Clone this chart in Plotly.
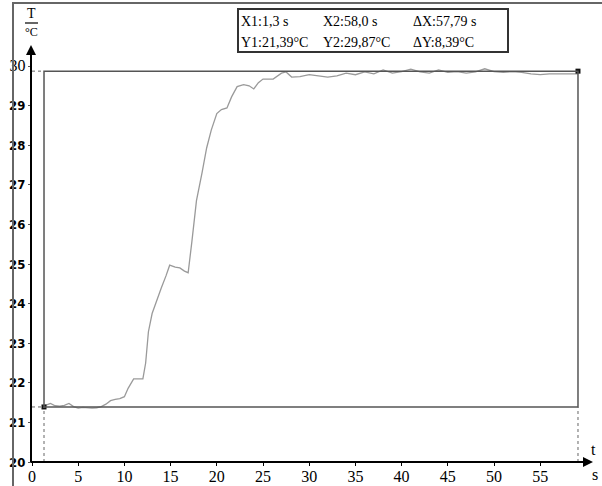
import plotly.graph_objects as go

# ---- data ----
time_s = [1.3, 2.0, 2.5, 3.0, 3.5, 4.0, 4.5, 5.0, 5.5, 6.0, 6.5, 7.0, 7.5, 8.0, 8.5, 9.0, 9.5, 10.0,
          10.4, 11.0, 11.5, 12.0, 12.3, 12.6, 13.0, 13.5, 14.0, 14.5, 14.9, 15.5, 16.0, 16.5, 16.9,
          17.3, 17.8, 18.4, 18.9, 19.4, 20.0, 20.5, 21.1, 21.6, 22.2, 22.9, 23.5, 24.0, 24.5, 25.0,
          26.1, 27.0, 27.5, 28.1, 29, 30, 31, 32, 33, 34, 35, 36, 37, 38, 39, 40, 41, 42, 43, 44,
          45, 46, 47, 48, 49, 50, 51, 52, 53, 54, 55, 56, 57, 58, 59.09]
temp_c = [21.42, 21.48, 21.42, 21.41, 21.43, 21.48, 21.40, 21.36, 21.38, 21.37, 21.36, 21.37, 21.40,
          21.46, 21.55, 21.58, 21.60, 21.65, 21.86, 22.10, 22.10, 22.10, 22.50, 23.29, 23.75, 24.10,
          24.40, 24.70, 24.97, 24.92, 24.90, 24.82, 24.78, 25.56, 26.60, 27.30, 27.93, 28.38, 28.80,
          28.90, 28.94, 29.22, 29.48, 29.53, 29.50, 29.42, 29.58, 29.67, 29.67, 29.82, 29.85, 29.72,
          29.73, 29.78, 29.75, 29.72, 29.75, 29.82, 29.78, 29.85, 29.80, 29.90, 29.82, 29.86, 29.92,
          29.85, 29.82, 29.90, 29.84, 29.86, 29.82, 29.85, 29.93, 29.86, 29.84, 29.86, 29.84, 29.80,
          29.78, 29.80, 29.80, 29.80, 29.80]
x_ticks = [0, 5, 10, 15, 20, 25, 30, 35, 40, 45, 50, 55]
y_ticks = [20, 21, 22, 23, 24, 25, 26, 27, 28, 29, 30]
cursor_x = [1.3, 59.09]
cursor_y = [21.39, 29.87]
info_rows = [["X1:1,3 s", "X2:58,0 s", "ΔX:57,79 s"],
             ["Y1:21,39°C", "Y2:29,87°C", "ΔY:8,39°C"]]

W, H = 602, 486
L, R, T, B = 32, 12, 47, 24
PW, PH = W - L - R, H - T - B
XR = [0, PW / 9.24]
YR = [20, 20 + PH / 39.6]


def px(x):
    return (x - L) / PW


def py(y):
    return (H - B - y) / PH


serif = "Liberation Serif"
narrow = "Liberation Sans Narrow, DejaVu Sans Condensed, Arial Narrow, sans-serif"

fig = go.Figure()
fig.add_trace(go.Scatter(x=time_s, y=temp_c, mode="lines",
                         line=dict(color="#9a9a9a", width=1.3), hoverinfo="skip"))
fig.add_trace(go.Scatter(x=cursor_x, y=cursor_y, mode="markers",
                         marker=dict(color="#111", size=5, symbol="square"), hoverinfo="skip"))

shapes = []
x1, x2 = cursor_x
y1, y2 = cursor_y
# cursor rectangle
shapes.append(dict(type="rect", xref="x", yref="y", x0=x1, x1=x2, y0=y1, y1=y2,
                   line=dict(color="#555", width=1.5)))
# dashed guides to axes
for xx in cursor_x:
    shapes.append(dict(type="line", xref="x", yref="y", x0=xx, x1=xx, y0=20, y1=y1,
                       line=dict(color="#666", width=1, dash="dot")))
for yy in cursor_y:
    shapes.append(dict(type="line", xref="x", yref="y", x0=0, x1=x1, y0=yy, y1=yy,
                       line=dict(color="#666", width=1, dash="dot")))
# axes lines
shapes.append(dict(type="line", xref="paper", yref="paper", x0=px(31), x1=px(31), y0=0, y1=py(52),
                   line=dict(color="#000", width=2)))
shapes.append(dict(type="line", xref="paper", yref="paper", x0=px(31), x1=px(586), y0=0, y1=0,
                   line=dict(color="#000", width=2)))
# fraction bar for T/°C
shapes.append(dict(type="line", xref="paper", yref="paper", x0=px(25), x1=px(38), y0=py(23), y1=py(23),
                   line=dict(color="#000", width=1.2)))

ann = []
# outer frame (only left and top edges fall inside the page)
ann.append(dict(xref="paper", yref="paper", x=px(12), y=py(2), xanchor="left", yanchor="top",
                text=" ", showarrow=False, width=640, height=540, bordercolor="#666",
                borderwidth=2, borderpad=0))
# info box (right edge runs on past the readout)
ann.append(dict(xref="paper", yref="paper", x=px(237), y=py(8), xanchor="left", yanchor="top",
                text=" ", showarrow=False, width=268, height=41, bordercolor="#333",
                borderwidth=2, borderpad=0))
# arrows
ann.append(dict(xref="paper", yref="paper", x=px(31), y=py(45), ax=0, ay=14, text="",
                showarrow=True, arrowhead=2, arrowsize=1, arrowwidth=2, arrowcolor="#000"))
ann.append(dict(xref="paper", yref="paper", x=px(593), y=0, ax=-14, ay=0, text="",
                showarrow=True, arrowhead=2, arrowsize=1, arrowwidth=2, arrowcolor="#000"))
# unit labels
ann.append(dict(xref="paper", yref="paper", x=px(31), y=py(14), text="T", showarrow=False,
                xanchor="center", yanchor="middle", font=dict(family=serif, size=14, color="#000")))
ann.append(dict(xref="paper", yref="paper", x=px(31), y=py(32), text="°C", showarrow=False,
                xanchor="center", yanchor="middle", font=dict(family=serif, size=12, color="#000")))
ann.append(dict(xref="paper", yref="paper", x=px(593), y=py(449), text="t", showarrow=False,
                xanchor="center", yanchor="middle", font=dict(family=serif, size=16, color="#000")))
ann.append(dict(xref="paper", yref="paper", x=px(595), y=py(474), text="s", showarrow=False,
                xanchor="center", yanchor="middle", font=dict(family=serif, size=16, color="#000")))
# info texts
col_x = [240, 322, 412]
row_y = [22, 42]
for r, row in enumerate(info_rows):
    for c, txt in enumerate(row):
        ann.append(dict(xref="paper", yref="paper", x=px(col_x[c]), y=py(row_y[r]), text=txt,
                        showarrow=False, xanchor="left", yanchor="middle", borderpad=0,
                        font=dict(family=serif, size=14, color="#000")))

y_text = [str(v) for v in y_ticks]
y_text[-1] = "<span style='font-family:Liberation Serif;font-size:16px;font-weight:normal'>30</span>"

fig.update_layout(
    width=W, height=H, margin=dict(l=L, r=R, t=T, b=B, autoexpand=False),
    paper_bgcolor="white", plot_bgcolor="white", showlegend=False,
    shapes=shapes, annotations=ann,
    xaxis=dict(range=XR, tickvals=x_ticks, ticktext=[str(v) for v in x_ticks], showgrid=False,
               zeroline=False, showline=False, ticks="outside", ticklen=3, tickcolor="#000",
               ticklabelstandoff=-3,
               automargin=False, tickfont=dict(family=serif, size=16, color="#000")),
    yaxis=dict(range=YR, tickvals=y_ticks, ticktext=y_text, showgrid=False,
               zeroline=False, showline=False, ticks="outside", ticklen=3, tickcolor="#555",
               automargin=False, tickfont=dict(family=narrow, size=13, color="#000", weight="bold")),
)
fig.write_html("out.html", config={"displayModeBar": False},
               post_script="document.body.style.margin='0';document.body.style.overflow='hidden';")
